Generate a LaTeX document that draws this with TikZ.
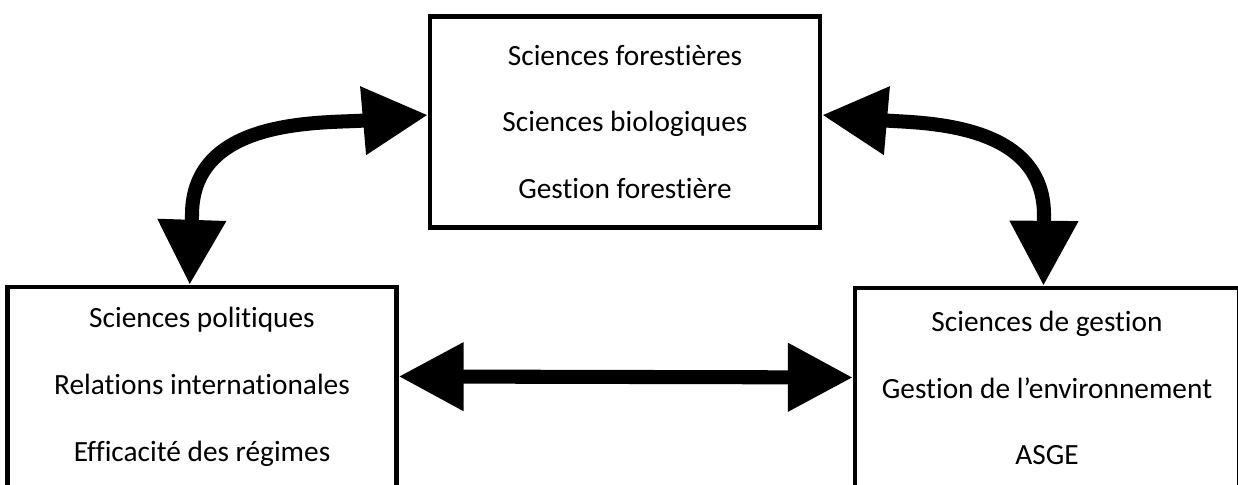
\documentclass[tikz,border=0pt]{standalone}
\usepackage{fontspec}
\setmainfont{Carlito}[Ligatures={NoCommon}]
\usetikzlibrary{arrows.meta,positioning,calc}

\begin{document}
\begin{tikzpicture}[
      x=0.02cm, y=-0.02cm,
      font=\fontsize{16.7}{38}\selectfont,
      box/.style={draw, line width=2.5pt, align=center, inner sep=0pt,
                  minimum width=7.8cm, minimum height=4cm},
      link/.style={line width=8pt,
                   {Triangle[length=37pt, width=37pt]}-{Triangle[length=37pt, width=37pt]}},
    ]
    \useasboundingbox (0,0) rectangle (1238,484);
    \clip (0,0) rectangle (1238,484);

    \node[box, minimum height=4.22cm] (forest) at (625,122)
      {Sciences forestières\\Sciences biologiques\\Gestion forestière};
    \node[box, minimum width=7.78cm] (polit) at (202,387)
      {Sciences politiques\\Relations internationales\\Efficacité des régimes};
    \node[box, minimum width=7.68cm] (gestion) at (1047,388)
      {Sciences de gestion\\Gestion de l’environnement\\ASGE};

    % links between the three fields
    \draw[link] ([yshift=4pt]forest.west) to[out=185, in=90] (192,215)
      -- ([xshift=-7pt]polit.north);
    \draw[link] ([yshift=4pt]forest.east) to[out=-5, in=90] (1044,215)
      -- ([xshift=-2pt]gestion.north);
    \draw[link] ([yshift=6pt]polit.east) -- ([yshift=6pt]gestion.west);
  \end{tikzpicture}
\end{document}
